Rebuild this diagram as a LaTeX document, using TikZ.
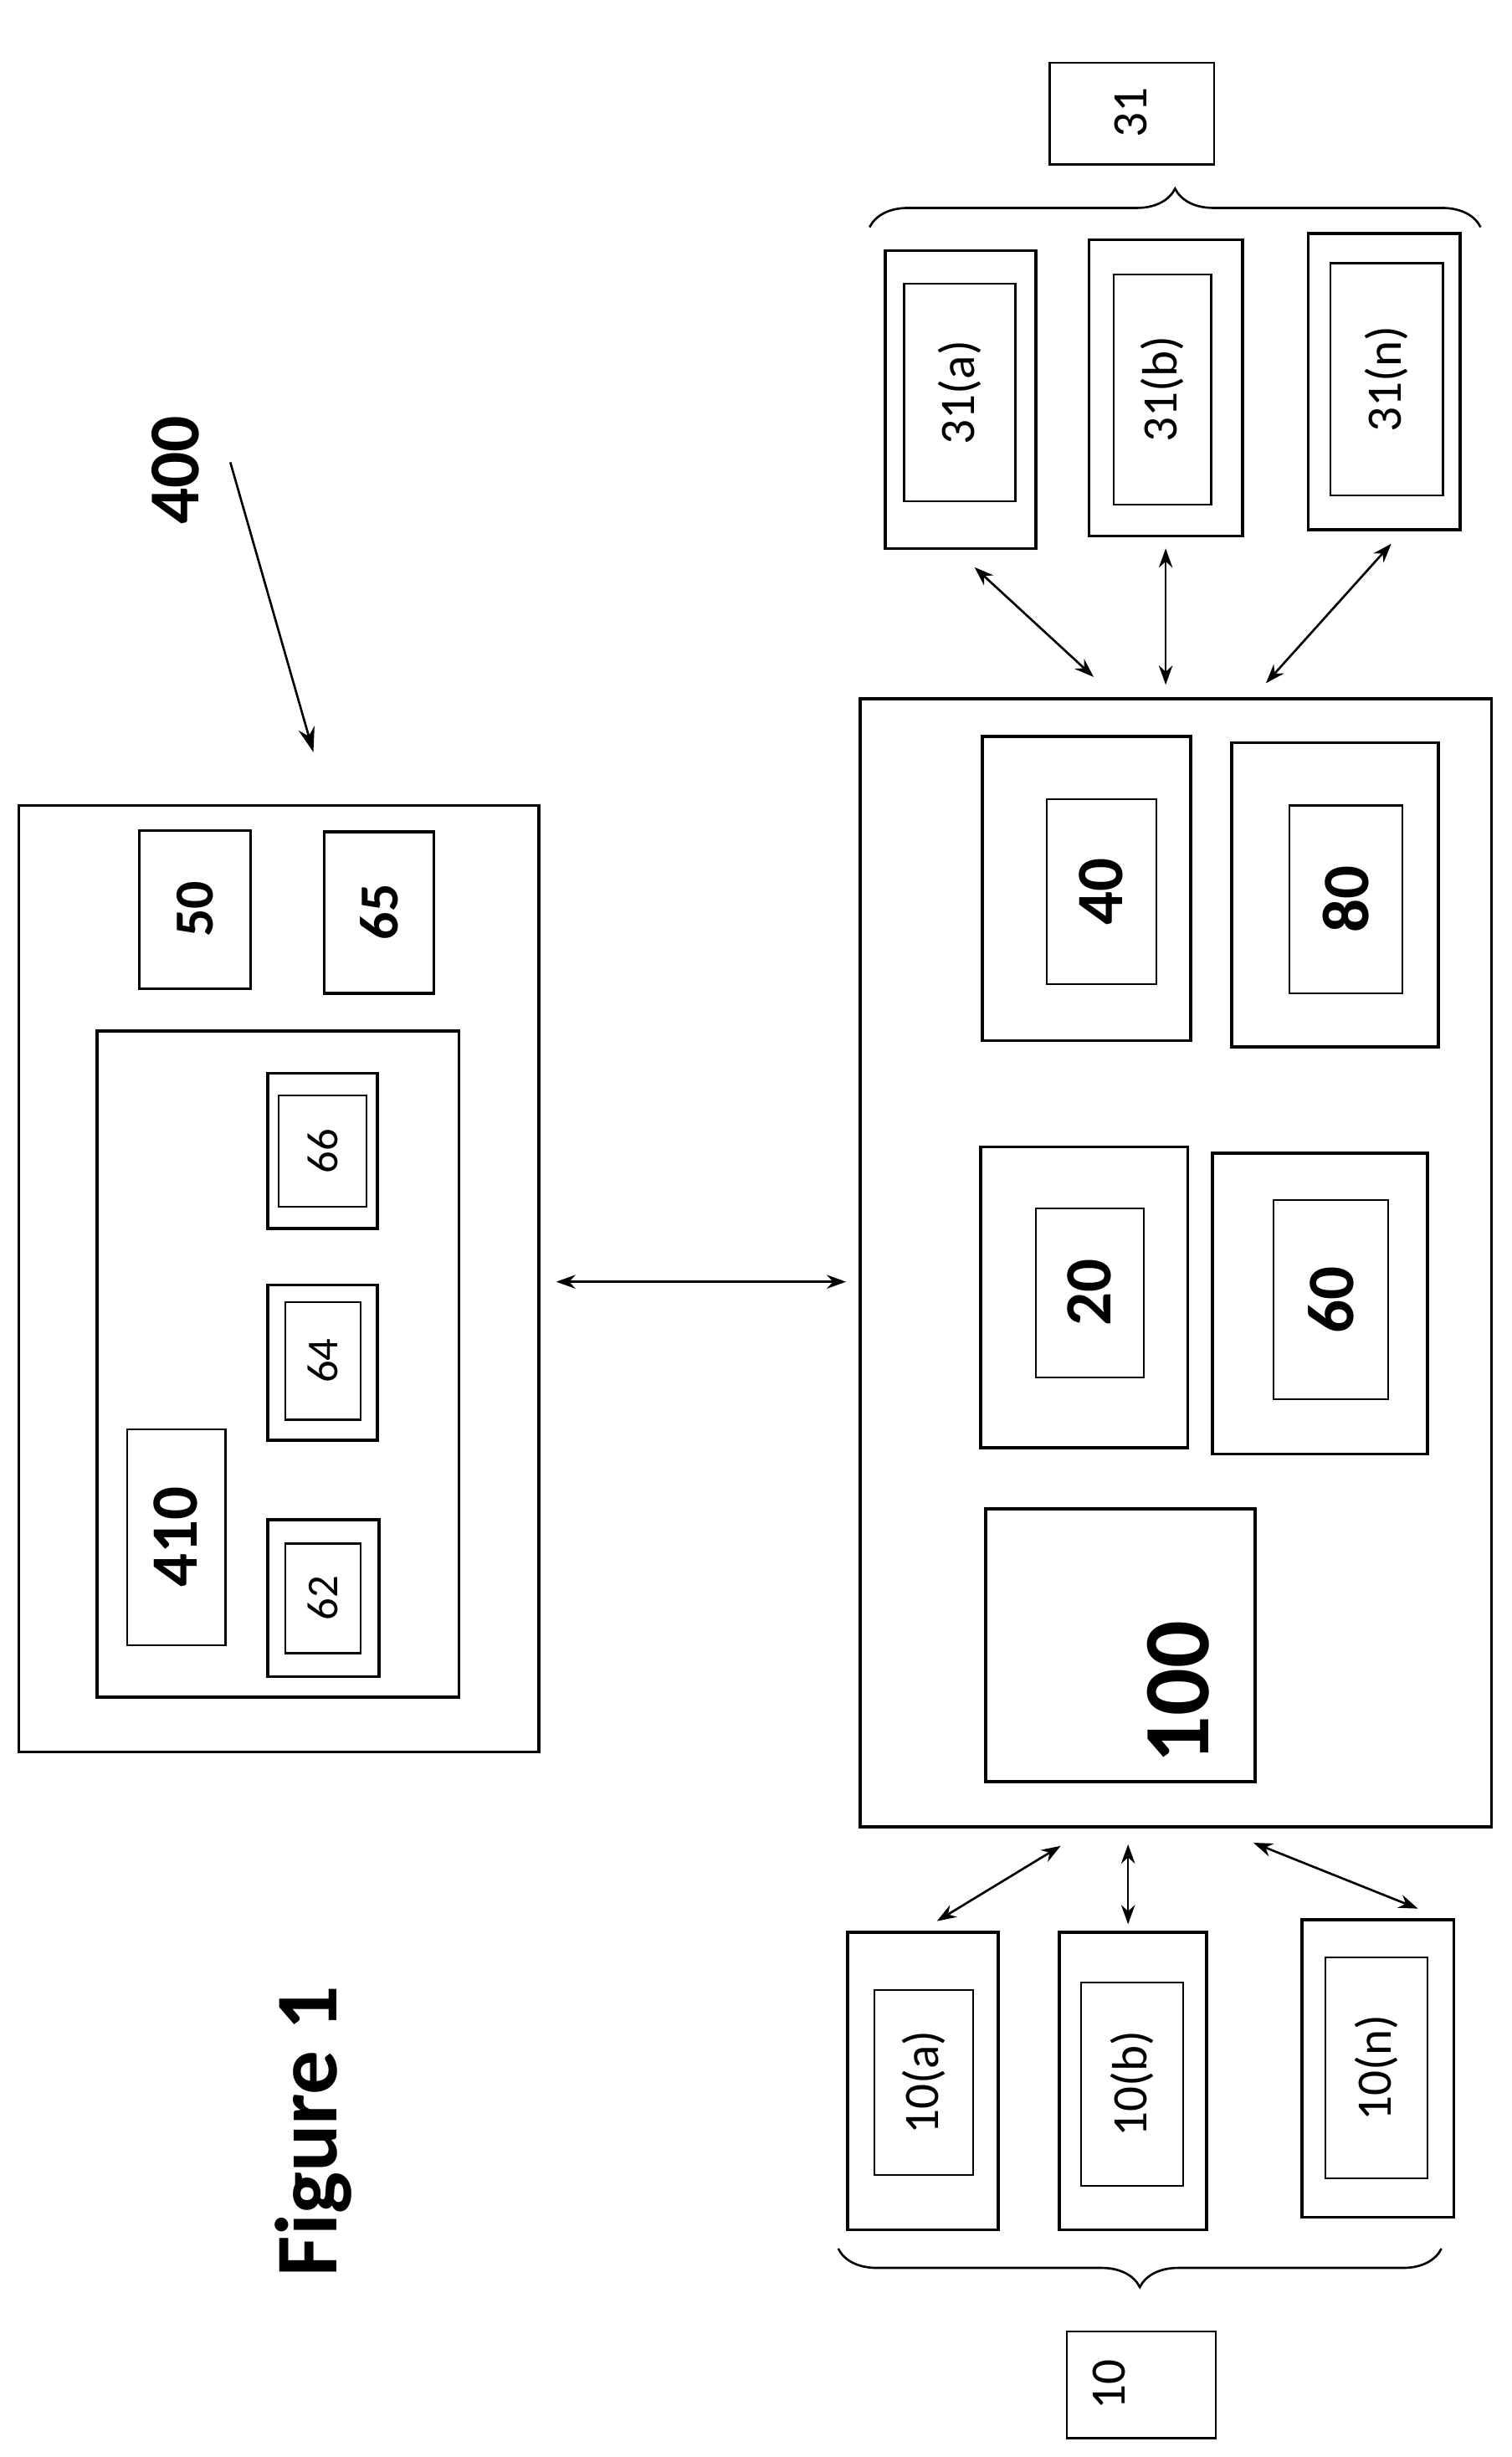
\documentclass[tikz,border=0pt]{standalone}
\usepackage{fontspec}
\setmainfont{Carlito}
\usetikzlibrary{arrows.meta,decorations.pathreplacing}
\tikzset{
  outer/.style={draw, line width=1.1pt},
  inner/.style={draw, line width=0.7pt},
  link/.style={{Stealth[length=7pt,width=5pt]}-{Stealth[length=7pt,width=5pt]}, line width=0.8pt},
}
% outer box, inner box with rotated label
\newcommand{\twobox}[9]{\draw[outer] (#1,#2) rectangle (#3,#4); \draw[inner] (#5,#6) rectangle (#7,#8); \node[rotate=90] at ({(#5+#7)/2},{(#6+#8)/2}) {#9};}
\begin{document}
\begin{tikzpicture}[x=0.02cm,y=-0.02cm]
  \useasboundingbox (0,0) rectangle (965,1568);
  % left unit
  \draw[outer] (12,514) rectangle (344,1118);
  \draw[outer] (62,658) rectangle (293,1083);
  \draw[outer] (89,530) rectangle (160,631);
  \node[rotate=90,font=\fontsize{20}{20}\selectfont\bfseries] (n50) at (124.5,580) {50};
  \draw[outer] (207,531) rectangle (277,634);
  \node[rotate=90,font=\fontsize{20}{20}\selectfont\bfseries] (n65) at (242,582) {65};
  \twobox{171}{685}{241}{784}{178}{699}{234}{770}{\fontsize{16}{16}\selectfont 66}
  \twobox{171}{820}{241}{919}{182}{831}{230}{906}{\fontsize{16}{16}\selectfont 64}
  \twobox{171}{970}{242}{1070}{182}{985}{230}{1055}{\fontsize{16}{16}\selectfont 62}
  \draw[inner] (81,912) rectangle (144,1050);
  \node[rotate=90,font=\fontsize{24}{24}\selectfont\bfseries] (n410) at (112,981) {410};
  \node[rotate=90,font=\fontsize{26}{26}\selectfont\bfseries] (n400) at (112,300) {400};
  \coordinate (p400) at (147,295);
  \coordinate (q400) at (200,480);
  \draw[-{Stealth[length=9pt,width=6pt]}, line width=0.8pt] (p400) -- (q400);
  \node[rotate=90,font=\fontsize{32}{32}\selectfont\bfseries] (fig) at (200,1360) {Figure 1};
  % link between units
  \coordinate (lft) at (355,818);
  \coordinate (rgt) at (540,818);
  \draw[link] (lft) -- (rgt);
  % right unit
  \draw[outer] (549,446) rectangle (952,1166);
  \twobox{627}{470}{760}{664}{668}{510}{738}{628}{\fontsize{24}{24}\selectfont\bfseries 40}
  \twobox{786}{474}{918}{668}{823}{514}{895}{634}{\fontsize{24}{24}\selectfont\bfseries 80}
  \twobox{626}{732}{758}{924}{661}{771}{730}{879}{\fontsize{24}{24}\selectfont\bfseries 20}
  \twobox{774}{736}{911}{928}{813}{766}{886}{893}{\fontsize{24}{24}\selectfont\bfseries 60}
  \draw[outer] (629,963) rectangle (801,1137);
  \node[rotate=90,font=\fontsize{34}{34}\selectfont\bfseries] (n100) at (752,1080) {100};
  % top devices
  \twobox{565}{160}{661}{350}{577}{181}{648}{320}{\fontsize{18}{18}\selectfont 31(a)}
  \twobox{695}{153}{793}{342}{711}{175}{773}{322}{\fontsize{18}{18}\selectfont 31(b)}
  \twobox{835}{149}{932}{338}{849}{168}{921}{316}{\fontsize{18}{18}\selectfont 31(n)}
  \draw[inner] (670,40) rectangle (775,105);
  \node[rotate=90,font=\fontsize{18}{18}\selectfont] (n31) at (722,72) {31};
  \draw[decorate,decoration={brace,amplitude=14pt},line width=0.8pt] (555,145) -- (945,145);
  \coordinate (ta1) at (622,362); \coordinate (ta2) at (698,432);
  \coordinate (tb1) at (744,350); \coordinate (tb2) at (744,437);
  \coordinate (tn1) at (888,347); \coordinate (tn2) at (808,436);
  \draw[link] (ta1) -- (ta2);
  \draw[link] (tb1) -- (tb2);
  \draw[link] (tn1) -- (tn2);
  % bottom devices
  \twobox{541}{1233}{637}{1423}{558}{1270}{621}{1388}{\fontsize{18}{18}\selectfont 10(a)}
  \twobox{676}{1233}{770}{1423}{690}{1265}{755}{1395}{\fontsize{18}{18}\selectfont 10(b)}
  \twobox{831}{1225}{928}{1415}{846}{1249}{911}{1390}{\fontsize{18}{18}\selectfont 10(n)}
  \draw[inner] (681,1488) rectangle (776,1556);
  \node[rotate=90,font=\fontsize{18}{18}\selectfont] (n10) at (708,1522) {10};
  \draw[decorate,decoration={brace,amplitude=14pt},line width=0.8pt] (920,1435) -- (535,1435);
  \coordinate (ba1) at (598,1226); \coordinate (ba2) at (677,1178);
  \coordinate (bb1) at (720,1228); \coordinate (bb2) at (720,1177);
  \coordinate (bn1) at (905,1218); \coordinate (bn2) at (800,1176);
  \draw[link] (ba1) -- (ba2);
  \draw[link] (bb1) -- (bb2);
  \draw[link] (bn1) -- (bn2);
\end{tikzpicture}
\end{document}
